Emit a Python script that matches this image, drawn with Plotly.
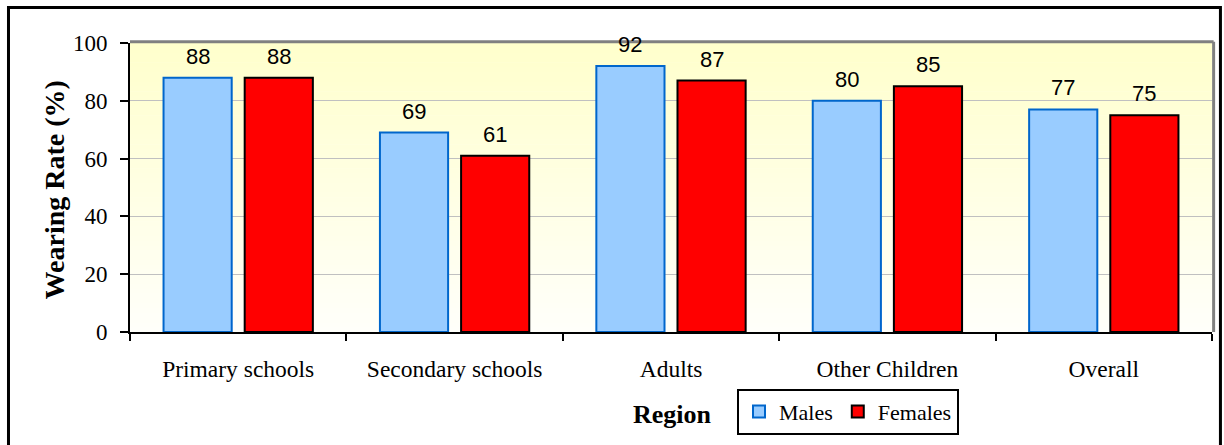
import plotly.graph_objects as go

categories = ["Primary schools", "Secondary schools", "Adults", "Other Children", "Overall"]
males = [88, 69, 92, 80, 77]
females = [88, 61, 87, 85, 75]
y_ticks = [0, 20, 40, 60, 80, 100]

SERIF = "Liberation Serif"
SANS = "Liberation Sans"

BARGAP = 0.25
BARGROUPGAP = 0.16

fig = go.Figure()
fig.add_trace(go.Bar(
    name="Males", x=categories, y=males,
    marker=dict(color="#99CCFF", line=dict(color="#0066CC", width=2)),
))
fig.add_trace(go.Bar(
    name="Females", x=categories, y=females,
    marker=dict(color="#FF0000", line=dict(color="#000000", width=2)),
))

# data labels above bars
slot = (1 - BARGAP) / 2
annotations = []
for i, (m, f) in enumerate(zip(males, females)):
    for val, off in ((m, -slot / 2), (f, slot / 2)):
        annotations.append(dict(
            x=i + off, y=val, xref="x", yref="y", text=str(val),
            showarrow=False, yanchor="bottom", yshift=7,
            font=dict(family=SANS, size=22, color="black"),
        ))

# axis titles
annotations.append(dict(
    x=-0.0702, y=0.49, xref="paper", yref="paper", text="<b>Wearing Rate (%)</b>",
    textangle=-90, showarrow=False, xanchor="center", yanchor="middle",
    font=dict(family=SERIF, size=28, color="black"),
))
annotations.append(dict(
    x=0.501, y=-0.284, xref="paper", yref="paper", text="<b>Region</b>",
    showarrow=False, xanchor="center", yanchor="middle",
    font=dict(family=SERIF, size=26, color="black"),
))

# gradient background
shapes = []
N = 60
top = (255, 255, 204)
bot = (255, 255, 250)
for k in range(N):
    t = k / (N - 1)
    c = tuple(round(top[j] + (bot[j] - top[j]) * t) for j in range(3))
    y1 = 1 - k / N
    y0 = 1 - (k + 1) / N - 0.002
    shapes.append(dict(type="rect", xref="paper", yref="paper", x0=0, x1=1,
                       y0=max(y0, 0), y1=y1, fillcolor="rgb(%d,%d,%d)" % c,
                       line=dict(width=0), layer="below"))
# plot area gray top/right border
shapes.append(dict(type="line", xref="paper", yref="paper", x0=0, x1=1.0015, y0=1.004, y1=1.004,
                   line=dict(color="#808080", width=3)))
shapes.append(dict(type="line", xref="paper", yref="paper", x0=1.0015, x1=1.0015, y0=0, y1=1.004,
                   line=dict(color="#808080", width=3)))
# outer chart border
shapes.append(dict(type="rect", xref="paper", yref="paper", x0=-0.1123, x1=1.0078,
                   y0=-0.42, y1=1.1228, line=dict(color="black", width=3)))

fig.update_layout(
    width=1224, height=445,
    margin=dict(l=130, r=12, t=43, b=112),
    paper_bgcolor="white",
    plot_bgcolor="rgba(0,0,0,0)",
    barmode="group", bargap=BARGAP, bargroupgap=BARGROUPGAP,
    showlegend=True,
    legend=dict(
        orientation="h", x=0.6636, xanchor="center", y=-0.192, yanchor="top",
        bordercolor="black", borderwidth=2, bgcolor="white",
        font=dict(family=SERIF, size=22, color="black"),
        itemwidth=30, tracegroupgap=0,
    ),
    annotations=annotations,
    shapes=shapes,
    xaxis=dict(
        type="category", tickson="boundaries", ticks="outside", ticklen=7, tickwidth=2,
        tickcolor="black", showline=True, linecolor="black", linewidth=2,
        showgrid=False, zeroline=False, ticklabelstandoff=15,
        tickfont=dict(family=SERIF, size=23.5, color="black"),
    ),
    yaxis=dict(
        range=[0, 100], tickvals=y_ticks, ticks="outside", ticklen=8, tickwidth=2,
        tickcolor="black", showline=True, linecolor="black", linewidth=2,
        showgrid=True, gridcolor="#C0C0C0", gridwidth=1, zeroline=False,
        ticklabelstandoff=8,
        tickfont=dict(family=SERIF, size=23, color="black"),
    ),
)

fig.write_html("out.html")
